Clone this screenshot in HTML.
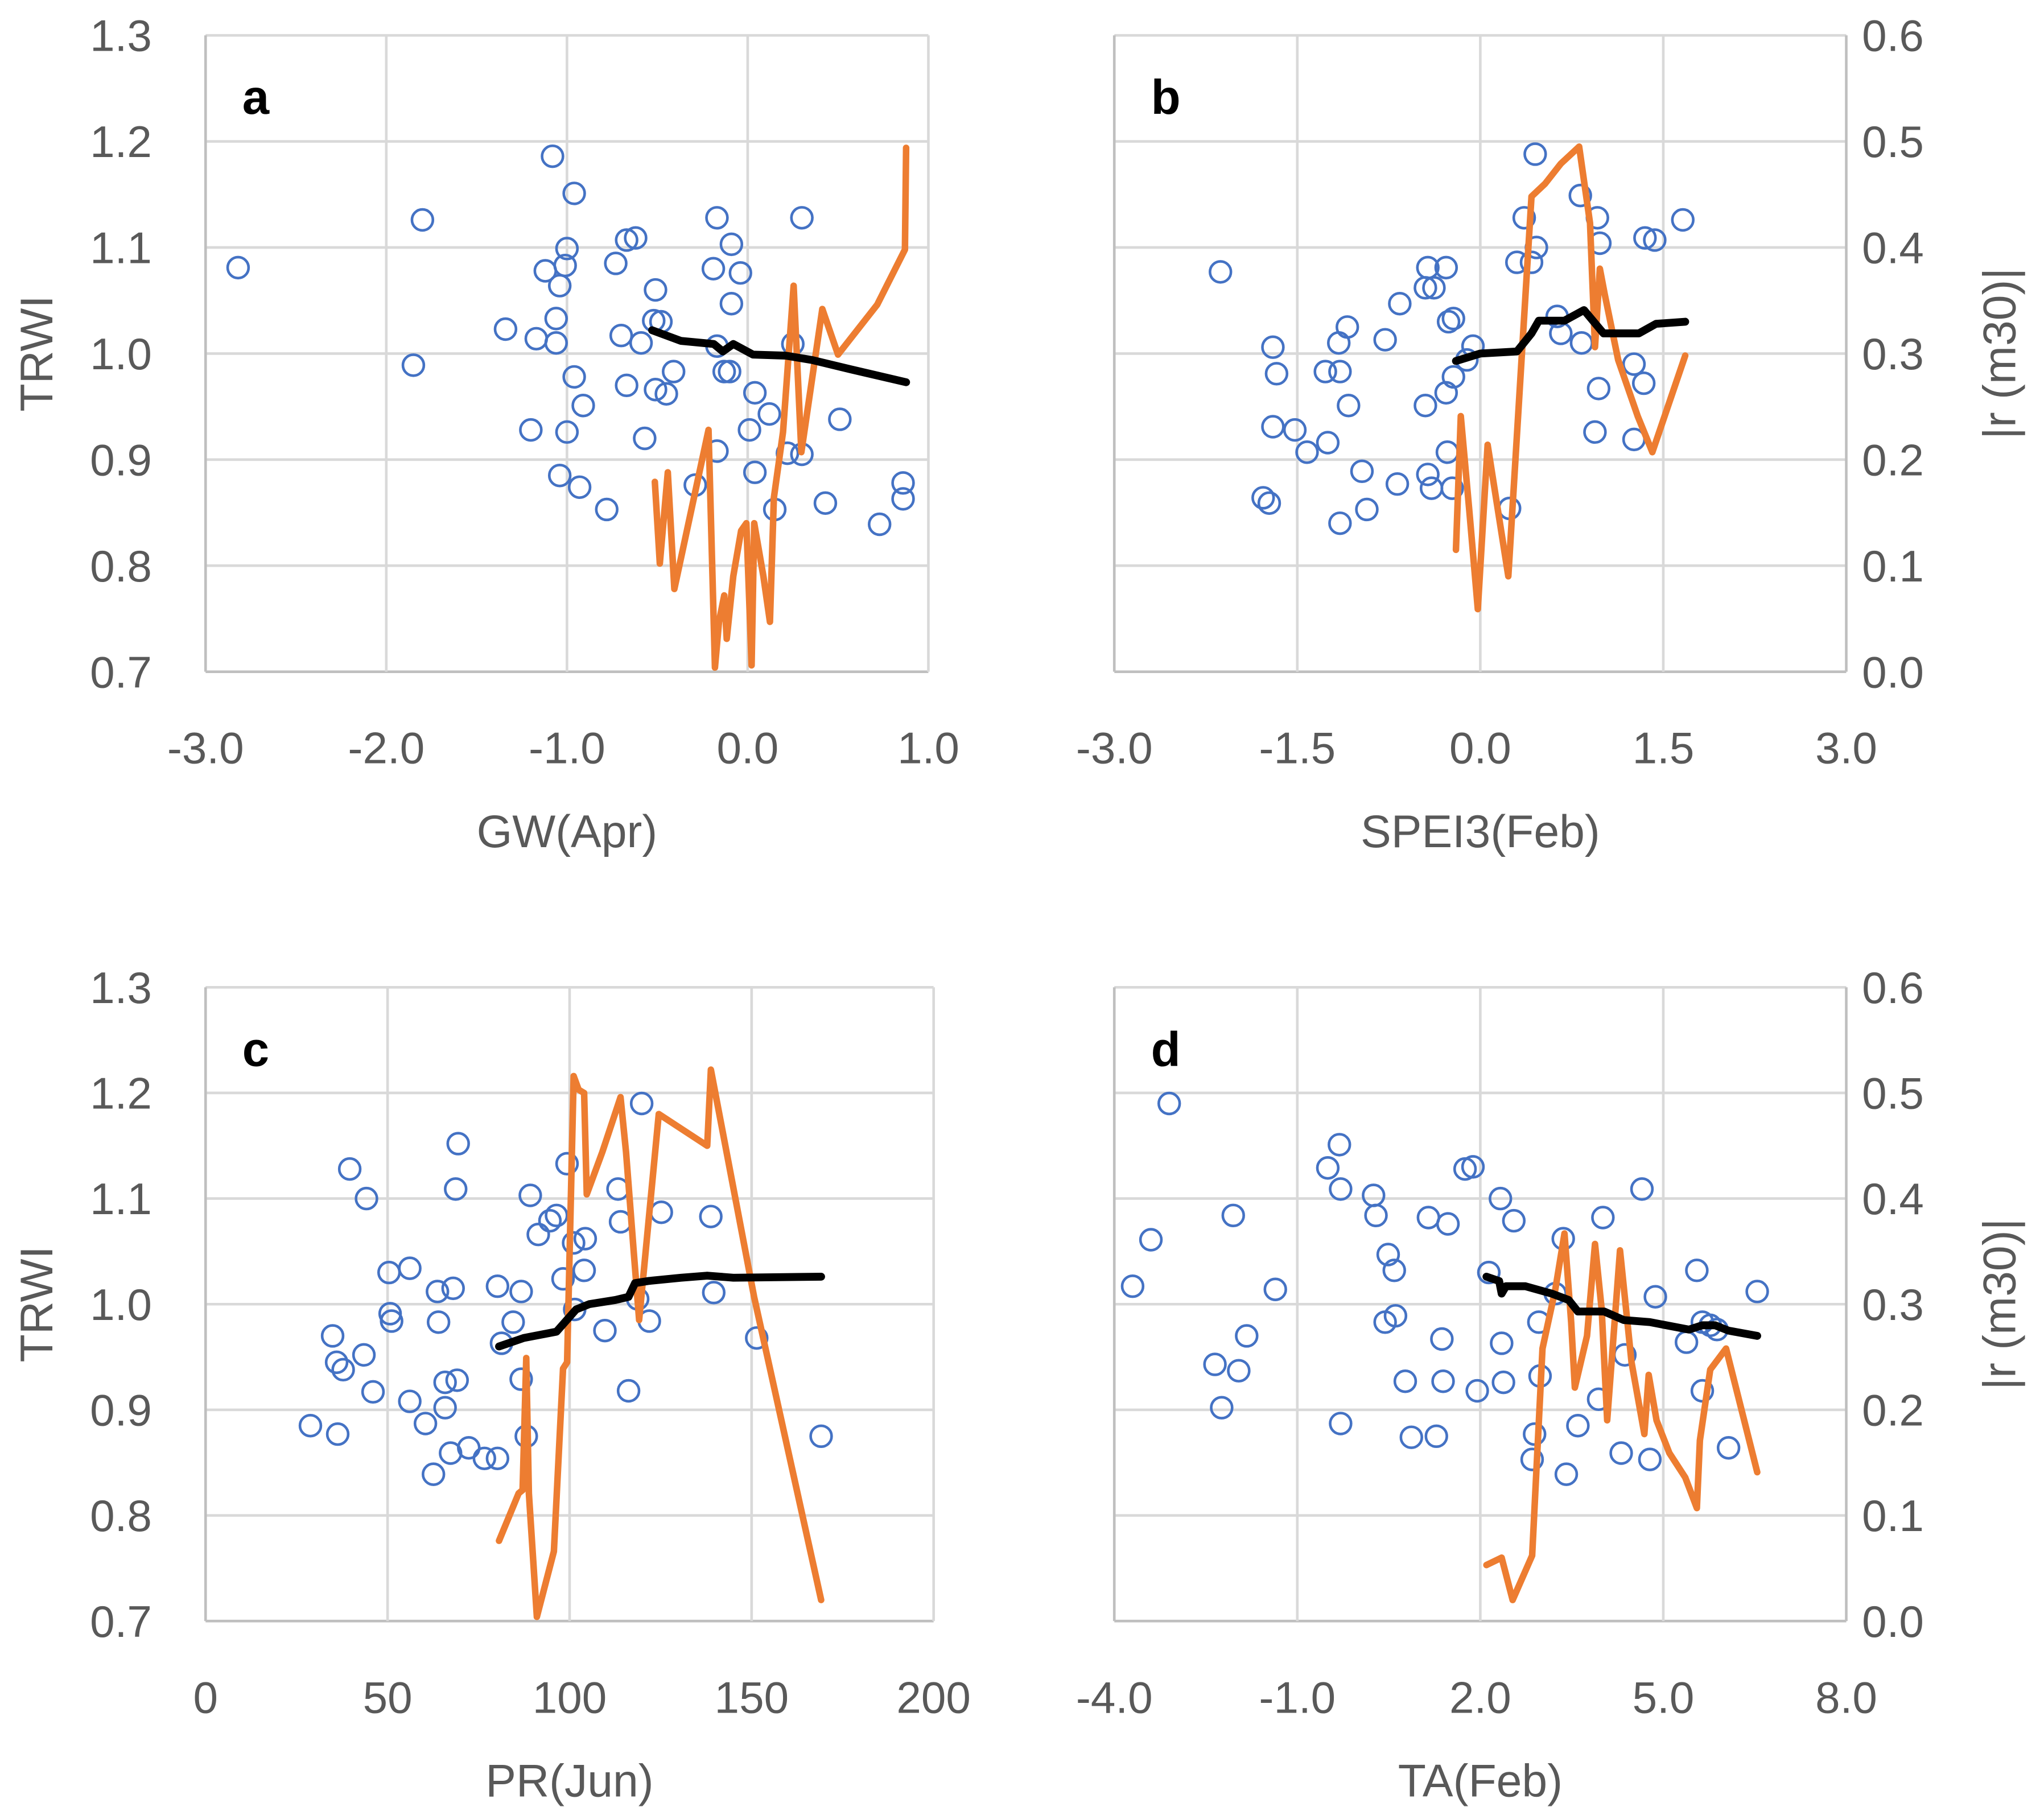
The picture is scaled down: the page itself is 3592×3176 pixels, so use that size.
<!DOCTYPE html>
<html><head><meta charset="utf-8"><style>
html,body{margin:0;padding:0;background:#fff}
svg{display:block}
text{font-family:"Liberation Sans",sans-serif}
</style></head>
<body>
<svg id="chart" width="3592" height="3176" viewBox="0 0 1561 1380" preserveAspectRatio="none" xmlns="http://www.w3.org/2000/svg"></svg>
<script>
// ---------- Data ----------
const yTicksLeft = ["0.7","0.8","0.9","1.0","1.1","1.2","1.3"];
const yTicksRight = ["0.0","0.1","0.2","0.3","0.4","0.5","0.6"];
const xTicksA = ["-3.0","-2.0","-1.0","0.0","1.0"];
const xTicksB = ["-3.0","-1.5","0.0","1.5","3.0"];
const xTicksC = ["0","50","100","150","200"];
const xTicksD = ["-4.0","-1.0","2.0","5.0","8.0"];

const scatterAX = [-2.82,-1.80,-1.85,-1.34,-1.08,-0.96,-1.0,-1.01,-1.12,-1.04,-1.06,-1.17,-1.06,-0.96,-0.91,-1.20,-1.0,-1.04,-0.93,-0.78,-0.73,-0.67,-0.62,-0.70,-0.67,-0.59,-0.57,-0.51,-0.52,-0.48,-0.51,-0.45,-0.41,-0.29,-0.17,-0.19,-0.09,-0.04,-0.09,-0.17,-0.13,-0.10,-0.17,0.01,0.04,0.04,0.12,0.15,0.30,0.25,0.30,0.43,0.51,0.73,0.86,0.86,0.22];
const scatterAY = [1.081,1.126,0.989,1.023,1.186,1.151,1.099,1.083,1.078,1.064,1.033,1.014,1.010,0.978,0.951,0.928,0.926,0.885,0.874,0.853,1.085,1.107,1.109,1.017,0.970,1.010,0.920,1.060,1.031,1.030,0.966,0.962,0.983,0.876,1.128,1.080,1.103,1.076,1.047,1.007,0.983,0.983,0.908,0.928,0.963,0.888,0.943,0.853,1.128,1.009,0.905,0.859,0.938,0.839,0.878,0.863,0.906];
const orangeAX = [-0.514,-0.486,-0.442,-0.406,-0.217,-0.181,-0.159,-0.130,-0.116,-0.080,-0.036,-0.007,0.022,0.036,0.087,0.123,0.145,0.196,0.254,0.297,0.413,0.5,0.717,0.870,0.877];
const orangeAR = [0.179,0.102,0.188,0.078,0.228,0.004,0.047,0.072,0.031,0.090,0.133,0.140,0.006,0.140,0.090,0.047,0.164,0.226,0.364,0.207,0.342,0.299,0.346,0.398,0.494];
const blackAX = [-0.529,-0.370,-0.188,-0.138,-0.080,0.029,0.210,0.355,0.572,0.877];
const blackAY = [1.022,1.012,1.009,1.002,1.009,0.999,0.998,0.994,0.985,0.973];

const scatterBX = [-2.13,-1.70,-1.67,-1.70,-1.78,-1.73,-1.52,-1.42,-1.25,-1.16,-1.09,-1.15,-1.08,-1.27,-1.15,-0.97,-0.93,-0.78,-0.66,-0.68,-0.45,-0.43,-0.38,-0.28,-0.45,-0.43,-0.40,-0.28,-0.22,-0.26,-0.23,-0.27,-0.22,-0.06,-0.11,0.30,0.36,0.42,0.46,0.45,0.24,0.82,0.96,0.98,0.63,0.66,0.83,0.97,0.94,1.26,1.34,1.26,1.35,1.43,1.66];
const scatterBY = [1.077,1.006,0.981,0.931,0.864,0.859,0.928,0.907,0.916,1.010,1.025,0.983,0.951,0.983,0.840,0.889,0.853,1.013,1.047,0.877,1.062,1.081,1.062,1.081,0.951,0.886,0.873,0.963,1.033,1.030,0.873,0.907,0.978,1.007,0.994,1.086,1.128,1.086,1.100,1.188,0.854,1.149,1.128,1.104,1.035,1.019,1.010,0.967,0.926,0.990,0.972,0.919,1.109,1.107,1.126];
const orangeBX = [-0.20,-0.16,-0.09,-0.02,0.06,0.23,0.42,0.53,0.66,0.81,0.90,0.94,0.98,1.02,1.13,1.29,1.41,1.68];
const orangeBR = [0.115,0.241,0.152,0.059,0.214,0.090,0.448,0.460,0.479,0.495,0.423,0.306,0.380,0.356,0.294,0.241,0.207,0.298];
const blackBX = [-0.20,0.0,0.30,0.42,0.48,0.69,0.85,1.01,1.30,1.44,1.68];
const blackBY = [0.993,1.0,1.002,1.019,1.031,1.031,1.041,1.019,1.019,1.028,1.030];

const scatterCX = [28.8,36.3,39.6,44.2,34.9,36.0,37.8,43.5,46.0,50.4,50.7,51.1,56.1,56.1,60.4,62.6,63.7,64.0,65.8,65.8,67.3,68.0,69.1,69.4,68.7,72.3,76.6,80.2,80.2,81.3,84.5,86.7,89.2,86.7,88.1,91.4,94.6,96.4,98.2,99.3,101.1,101.4,104.0,104.3,109.7,113.3,114.0,116.2,118.7,119.8,121.9,125.2,138.8,139.6,151.4,169.1];
const scatterCY = [0.885,0.877,1.128,1.100,0.970,0.945,0.938,0.952,0.917,1.030,0.991,0.984,1.034,0.908,0.887,0.839,1.012,0.983,0.926,0.902,0.859,1.015,0.928,1.152,1.109,0.864,0.854,0.854,1.017,0.963,0.983,1.012,1.103,0.929,0.875,1.066,1.079,1.084,1.024,1.133,1.058,0.995,1.032,1.062,0.975,1.109,1.078,0.918,1.005,1.190,0.984,1.087,1.083,1.011,0.968,0.875];
const orangeCX = [80.6,86.0,87.1,88.1,88.8,91.0,95.7,98.2,99.3,101.1,102.5,104.0,104.7,109.0,114.0,115.5,117.6,119.1,124.5,137.8,138.8,150.7,169.1];
const orangeCR = [0.076,0.121,0.124,0.249,0.121,0.004,0.066,0.239,0.245,0.516,0.503,0.5,0.404,0.444,0.496,0.444,0.351,0.285,0.480,0.450,0.522,0.307,0.020];
const blackCX = [80.6,87.4,96.4,101.8,105.4,112.6,116.2,118.0,121.6,130.6,137.8,145.0,169.1];
const blackCY = [0.960,0.968,0.974,0.995,1.0,1.004,1.007,1.020,1.022,1.025,1.027,1.025,1.026];

const scatterDX = [-3.70,-3.40,-3.10,-2.35,-2.24,-1.96,-1.83,-2.05,-1.36,-0.50,-0.31,-0.29,-0.29,0.25,0.29,0.49,0.59,0.61,0.44,0.77,0.87,1.15,1.28,1.37,1.39,1.47,1.75,1.88,1.95,2.14,2.33,2.35,2.38,2.55,2.85,2.89,2.96,2.98,3.23,3.36,3.41,3.60,3.94,4.01,4.31,4.37,4.65,4.78,4.87,5.38,5.55,5.64,5.64,5.77,5.88,6.07,6.54];
const scatterDY = [1.017,1.061,1.190,0.943,0.902,0.937,0.970,1.084,1.014,1.129,1.151,1.109,0.887,1.103,1.084,1.047,1.032,0.989,0.983,0.927,0.874,1.082,0.875,0.967,0.927,1.076,1.128,1.130,0.918,1.030,1.100,0.963,0.926,1.079,0.853,0.877,0.983,0.932,1.010,1.062,0.839,0.885,0.910,1.082,0.859,0.952,1.109,0.853,1.007,0.964,1.032,0.983,0.918,0.980,0.976,0.864,1.012];
const orangeDX = [2.10,2.35,2.53,2.85,3.02,3.23,3.38,3.49,3.55,3.75,3.88,3.99,4.08,4.29,4.48,4.69,4.76,4.89,5.10,5.36,5.55,5.60,5.77,6.03,6.54];
const orangeDR = [0.053,0.060,0.020,0.062,0.258,0.314,0.367,0.283,0.221,0.270,0.357,0.295,0.190,0.351,0.245,0.177,0.233,0.190,0.159,0.136,0.107,0.171,0.238,0.258,0.141];
const blackDX = [2.10,2.31,2.35,2.42,2.74,3.17,3.45,3.60,4.03,4.35,4.78,5.42,5.64,5.85,6.07,6.54];
const blackDY = [1.026,1.022,1.010,1.017,1.017,1.010,1.004,0.993,0.993,0.985,0.983,0.976,0.980,0.980,0.975,0.970];

// ---------- Drawing ----------
const NS = "http://www.w3.org/2000/svg";
const svg = document.getElementById("chart");
function mk(tag, attrs, parent){
  const e = document.createElementNS(NS, tag);
  for (const k in attrs) e.setAttribute(k, attrs[k]);
  (parent||svg).appendChild(e);
  return e;
}

const panels = [
  {id:"a", x0:157, x1:709, y0:27, y1:513, xmin:-3, xmax:1, xt:xTicksA, title:"GW(Apr)", left:true, right:false,
   sx:scatterAX, sy:scatterAY, ox:orangeAX, or:orangeAR, bx:blackAX, by:blackAY},
  {id:"b", x0:851, x1:1410, y0:27, y1:513, xmin:-3, xmax:3, xt:xTicksB, title:"SPEI3(Feb)", left:false, right:true,
   sx:scatterBX, sy:scatterBY, ox:orangeBX, or:orangeBR, bx:blackBX, by:blackBY},
  {id:"c", x0:157, x1:713, y0:754, y1:1238, xmin:0, xmax:200, xt:xTicksC, title:"PR(Jun)", left:true, right:false,
   sx:scatterCX, sy:scatterCY, ox:orangeCX, or:orangeCR, bx:blackCX, by:blackCY},
  {id:"d", x0:851, x1:1410, y0:754, y1:1238, xmin:-4, xmax:8, xt:xTicksD, title:"TA(Feb)", left:false, right:true,
   sx:scatterDX, sy:scatterDY, ox:orangeDX, or:orangeDR, bx:blackDX, by:blackDY}
];

panels.forEach(p => {
  const g = mk("g", {});
  
  
  const X = v => p.x0 + (v - p.xmin) / (p.xmax - p.xmin) * (p.x1 - p.x0);
  const Y = v => p.y1 - (v - 0.7) / 0.6 * (p.y1 - p.y0);
  const R = v => p.y1 - v / 0.6 * (p.y1 - p.y0);

  for (let i = 0; i < yTicksLeft.length; i++) {
    const yy = p.y1 - i * (p.y1 - p.y0) / 6;
    const gl = mk("line", {x1:p.x0, x2:p.x1, y1:yy, y2:yy, stroke: i===0 ? "#bfbfbf" : "#d9d9d9", "stroke-width":2}, g);
    
    
    if (p.left) {
      const t = mk("text", {x:116, y:yy+12, "text-anchor":"end", "font-size":34, fill:"#595959"}, g);
      t.textContent = yTicksLeft[i];
      
      
    }
    if (p.right) {
      const t = mk("text", {x:1422, y:yy+12, "text-anchor":"start", "font-size":34, fill:"#595959"}, g);
      t.textContent = yTicksRight[i];
      
      
    }
  }
  for (let i = 0; i < p.xt.length; i++) {
    const xx = p.x0 + i * (p.x1 - p.x0) / (p.xt.length - 1);
    const vl = mk("line", {x1:xx, x2:xx, y1:p.y0, y2:p.y1, stroke: (i===0 || (p.right && i===p.xt.length-1)) ? "#bfbfbf" : "#d9d9d9", "stroke-width":2}, g);
    
    
    const t = mk("text", {x:xx, y:p.y1+70, "text-anchor":"middle", "font-size":34, fill:"#595959"}, g);
    t.textContent = p.xt[i];
    
    
  }
  const xt = mk("text", {x:(p.x0+p.x1)/2, y:p.y1+134, "text-anchor":"middle", "font-size":35, fill:"#595959"}, g);
  xt.textContent = p.title;
  
  
  if (p.left) {
    const yt = mk("text", {x:0, y:0, "text-anchor":"middle", "font-size":35, fill:"#595959", transform:`translate(40 ${(p.y0+p.y1)/2}) rotate(-90)`}, g);
    yt.textContent = "TRWI";
    
    
  }
  if (p.right) {
    const rt = mk("text", {x:0, y:0, "text-anchor":"middle", "font-size":35, fill:"#595959", transform:`translate(1539 ${(p.y0+p.y1)/2}) rotate(-90)`}, g);
    rt.textContent = "|r (m30)|";
    
    
  }
  const pl = mk("text", {x:p.x0+28, y:p.y0+60, "font-size":37, "font-weight":"bold", fill:"#000"}, g);
  pl.textContent = p.id;
  
  

  for (let i = 0; i < p.sx.length; i++) {
    const c = mk("circle", {cx:X(p.sx[i]), cy:Y(p.sy[i]), r:8, fill:"none", stroke:"#4472c4", "stroke-width":2}, g);
    
    
  }
  const op = p.ox.map((v,i) => X(v).toFixed(1)+","+R(p.or[i]).toFixed(1)).join(" ");
  const ol = mk("polyline", {points:op, fill:"none", stroke:"#ed7d31", "stroke-width":5, "stroke-linejoin":"round", "stroke-linecap":"round"}, g);
  
  
  const bp = p.bx.map((v,i) => X(v).toFixed(1)+","+Y(p.by[i]).toFixed(1)).join(" ");
  const bl = mk("polyline", {points:bp, fill:"none", stroke:"#000", "stroke-width":6, "stroke-linejoin":"round", "stroke-linecap":"round"}, g);
  
  
});
</script>
</body></html>
